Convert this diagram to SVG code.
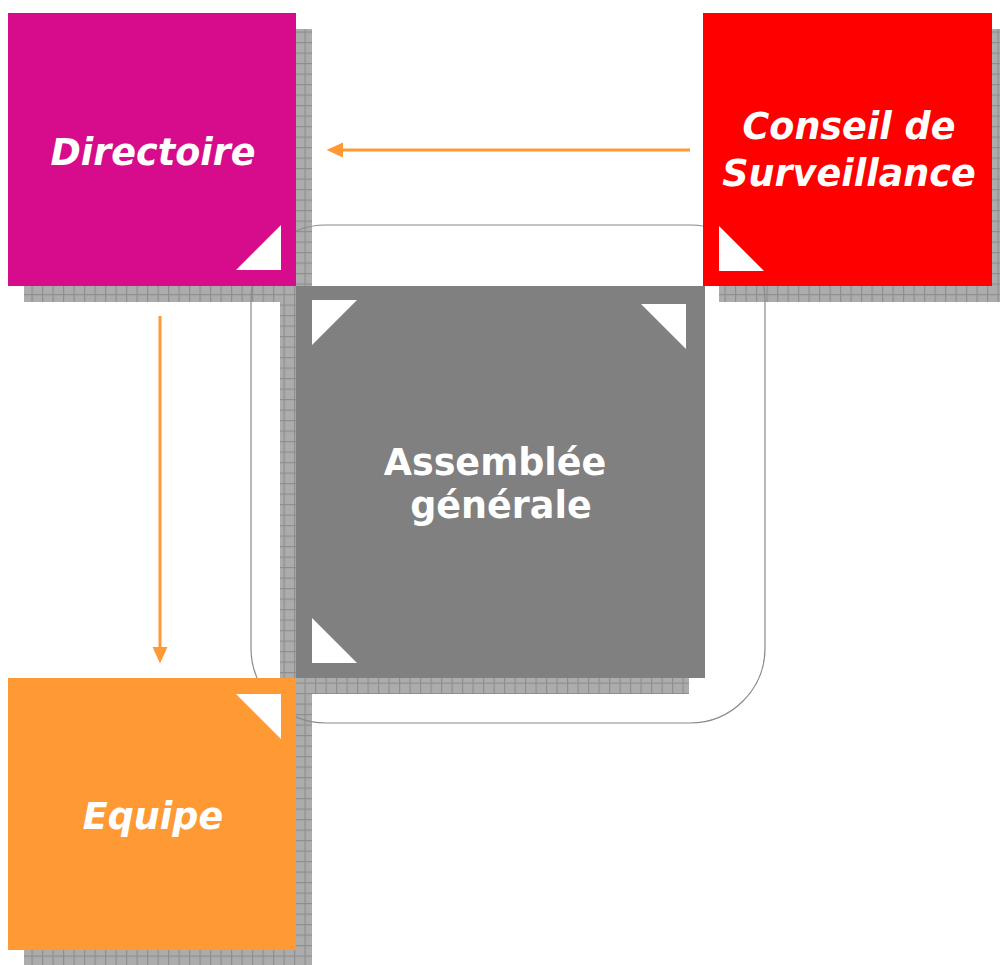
<svg xmlns="http://www.w3.org/2000/svg" width="1000" height="965" viewBox="0 0 1000 965">
<defs>
<pattern id="sh" width="10.5" height="10.5" patternUnits="userSpaceOnUse">
<rect width="10.5" height="10.5" fill="#acacac"/>
<path d="M0,0.6H10.5M0.6,0V10.5" stroke="#8e8e8e" stroke-width="1.2"/>
</pattern>
<marker id="ah" markerUnits="userSpaceOnUse" markerWidth="17" markerHeight="16" refX="0" refY="7.5" orient="auto" viewBox="0 0 17 15">
<path d="M0,0 L16.5,7.5 L0,15 z" fill="#FF9933"/>
</marker>
</defs>
<style>
.shadow{fill:url(#sh)}
.tri{fill:#ffffff}
.lbl{font-family:"DejaVu Sans","Verdana",sans-serif;font-weight:bold;fill:#ffffff;font-size:36.5px;text-anchor:middle}
.it{font-style:italic}
.conn{stroke:#FF9933;stroke-width:3;fill:none}
</style>
<rect width="1000" height="965" fill="#ffffff"/>
<g id="shadows">
<rect class="shadow" x="24" y="29" width="288" height="273"/>
<rect class="shadow" x="719" y="29" width="289" height="273"/>
<rect class="shadow" x="280" y="302" width="409" height="392"/>
<rect class="shadow" x="24" y="694" width="288" height="272"/>
</g>
<rect id="frame" x="251" y="225" width="514" height="498" rx="75" ry="75" fill="none" stroke="#8a8a8a" stroke-width="1.2"/>
<g id="assemblee">
<rect x="296" y="286" width="409" height="392" fill="#808080"/>
<polygon class="tri" points="312,300 357,300 312,345"/>
<polygon class="tri" points="641,304 686,304 686,349"/>
<polygon class="tri" points="312,618 312,663 357,663"/>
<text class="lbl" x="495" y="475">Assemblée</text>
<text class="lbl" x="501" y="518">générale</text>
</g>
<g id="directoire">
<rect x="8" y="13" width="288" height="273" fill="#D60C8C"/>
<polygon class="tri" points="236,270 281,270 281,225"/>
<text class="lbl it" x="153" y="165">Directoire</text>
</g>
<g id="conseil">
<rect x="703" y="13" width="289" height="273" fill="#FF0000"/>
<polygon class="tri" points="719,226 719,271 764,271"/>
<text class="lbl it" x="849" y="139">Conseil de</text>
<text class="lbl it" x="849" y="186">Surveillance</text>
</g>
<g id="equipe">
<rect x="8" y="678" width="288" height="272" fill="#FF9933"/>
<polygon class="tri" points="236,694 281,694 281,739"/>
<text class="lbl it" x="153" y="829">Equipe</text>
</g>
<g id="connectors">
<line class="conn" x1="690" y1="150" x2="343" y2="150" marker-end="url(#ah)"/>
<line class="conn" x1="160" y1="316" x2="160" y2="647" marker-end="url(#ah)"/>
</g>
</svg>
